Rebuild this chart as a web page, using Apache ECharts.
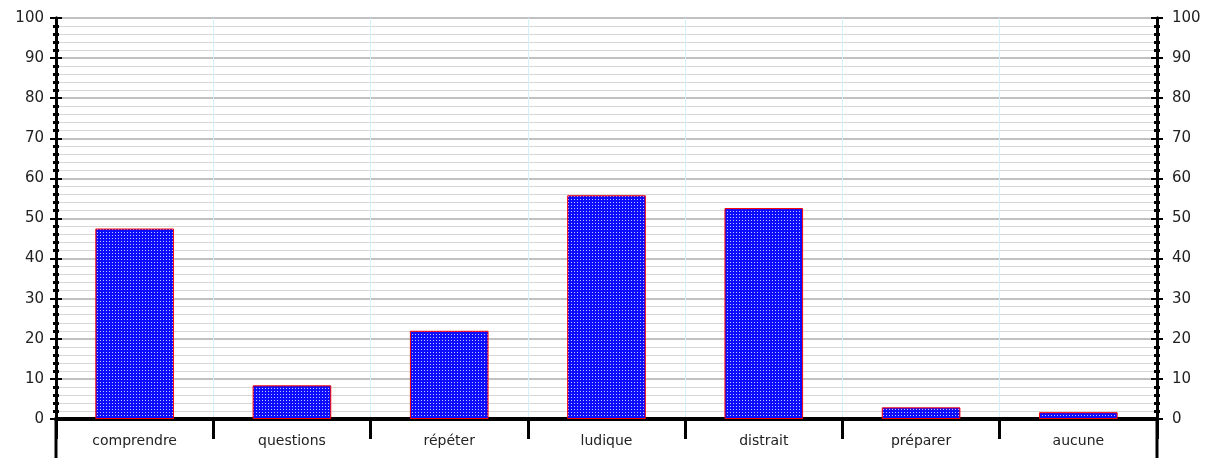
<!DOCTYPE html>
<html><head><meta charset="utf-8">
<script src="https://cdn.jsdelivr.net/npm/echarts@6/dist/echarts.min.js"></script>
<style>html,body{margin:0;padding:0;background:#fff}#c{width:1206px;height:458px}</style>
</head><body><div id="c"></div>
<script>
const categories = ['comprendre','questions','répéter','ludique','distrait','préparer','aucune'];
const values = [47.5, 8.4, 22, 55.8, 52.6, 2.9, 1.7];
const yMin = 0, yMax = 100, yInterval = 10;

const tile = document.createElement('canvas');
tile.width = 3; tile.height = 3;
const tc = tile.getContext('2d');
tc.fillStyle = '#0c0cff'; tc.fillRect(0,0,3,3);
tc.fillStyle = '#c4c4ff'; tc.fillRect(1,1,1,1);

const labelFont = {color:'#222', fontFamily:'"Comic Sans MS","DejaVu Sans",sans-serif', fontSize:15};
function yAx(pos, inside, showLabel){
  return {type:'value', min:yMin, max:yMax, interval:yInterval, position:pos, splitNumber:10,
    axisLine:{show:true, lineStyle:{color:'#000', width:3}},
    axisTick:{show:true, inside:inside, length:6, lineStyle:{color:'#000', width:2}},
    minorTick:{show:true, splitNumber:5, length:3, lineStyle:{color:'#000', width:3}},
    axisLabel:Object.assign({show:showLabel, margin: pos==='left'?12:15}, labelFont),
    splitLine:{show:pos==='left' && !inside, lineStyle:{color:'#adadad', width:1.5}},
    minorSplitLine:{show:pos==='left' && !inside, lineStyle:{color:'#d6d6d6', width:1}}
  };
}
const chart = echarts.init(document.getElementById('c'));
chart.setOption({
  animation:false,
  grid:{left:56, right:49, top:18, bottom:39},
  xAxis:{type:'category', data:categories, boundaryGap:true,
    axisLine:{show:true, lineStyle:{color:'#000', width:4}},
    axisTick:{show:true, length:20, lineStyle:{color:'#000', width:3}},
    axisLabel:Object.assign({margin:15}, labelFont, {fontSize:14}),
    splitLine:{show:true, lineStyle:{color:'#d2f2f8', width:1}}
  },
  yAxis:[yAx('left',false,true), yAx('left',true,false), yAx('right',false,true), yAx('right',true,false)],
  series:[{type:'bar', data:values, barWidth:'50%',
    itemStyle:{color:{image:tile, repeat:'repeat'}, borderColor:'#ff0000', borderWidth:1}}]
});
const p0 = chart.convertToPixel({xAxisIndex:0, yAxisIndex:0}, [0, 0]);
const gridModel = chart.getModel().getComponent('grid');
const rect = gridModel.coordinateSystem.getRect();
chart.setOption({graphic:[
  {type:'line', shape:{x1:rect.x, y1:p0[1], x2:rect.x, y2:458}, style:{stroke:'#000', lineWidth:3}},
  {type:'line', shape:{x1:rect.x+rect.width, y1:p0[1], x2:rect.x+rect.width, y2:458}, style:{stroke:'#000', lineWidth:3}}
]});
</script></body></html>
